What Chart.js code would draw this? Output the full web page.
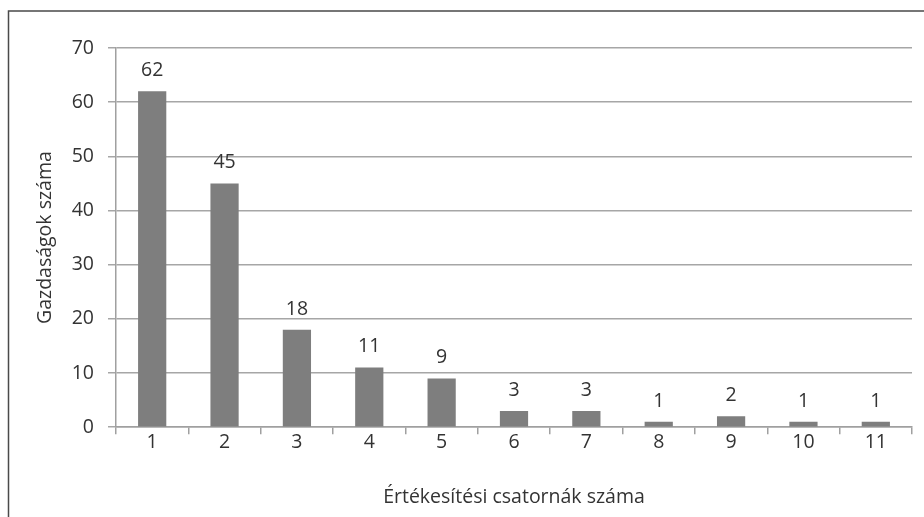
<!DOCTYPE html>
<html>
<head>
<meta charset="utf-8">
<script src="https://cdn.jsdelivr.net/npm/chart.js@4"></script>
<style>
    html, body { margin: 0; padding: 0; background: #fff; }
    #wrap { width: 924px; height: 517px; position: relative; }
</style>
</head>
<body>
<div id="wrap"><canvas id="chart" width="924" height="517"></canvas></div>
<script>
// values
const channels = ['1', '2', '3', '4', '5', '6', '7', '8', '9', '10', '11'];
const farms = [62, 45, 18, 11, 9, 3, 3, 1, 2, 1, 1];
const yTicks = [0, 10, 20, 30, 40, 50, 60, 70];

const xTitle = 'Értékesítési csatornák száma';
const yTitle = 'Gazdaságok száma';

const textColor = '#333333';
const fontFamily = '"Open Sans", "DejaVu Sans", sans-serif';
const fontSize = 19.5;

// labels above each bar
const valueLabels = {
    id: 'valueLabels',
    afterDatasetsDraw(chart) {
        const ctx = chart.ctx;
        const meta = chart.getDatasetMeta(0);
        ctx.save();
        ctx.font = fontSize + 'px ' + fontFamily;
        ctx.fillStyle = textColor;
        ctx.textAlign = 'center';
        ctx.textBaseline = 'bottom';
        meta.data.forEach((bar, i) => {
            ctx.fillText(String(farms[i]), bar.x, bar.y - 11);
        });
        ctx.restore();
    }
};

// the frame of the figure, cut at the right and bottom
const frame = {
    id: 'frame',
    beforeDraw(chart) {
        const ctx = chart.ctx;
        ctx.save();
        ctx.strokeStyle = '#4a4a4a';
        ctx.lineWidth = 1.5;
        ctx.beginPath();
        ctx.moveTo(8.5, 517);
        ctx.lineTo(8.5, 11);
        ctx.lineTo(924, 11);
        ctx.stroke();
        ctx.restore();
    }
};

Chart.defaults.font.family = fontFamily;
Chart.defaults.color = textColor;

new Chart(document.getElementById('chart').getContext('2d'), {
    type: 'bar',
    data: {
        labels: channels,
        datasets: [{
            data: farms,
            backgroundColor: '#7e7e7e',
            categoryPercentage: 1,
            barPercentage: 0.39
        }]
    },
    options: {
        responsive: false,
        animation: false,
        layout: { padding: { left: 34, top: 48, right: 12, bottom: 8 } },
        plugins: {
            legend: { display: false },
            tooltip: { enabled: false }
        },
        scales: {
            x: {
                offset: true,
                grid: {
                    offset: true,
                    drawOnChartArea: false,
                    drawTicks: true,
                    tickLength: 7,
                    tickColor: '#a0a0a0',
                    lineWidth: 1.5
                },
                border: { color: '#a0a0a0', width: 1.5 },
                ticks: { font: { size: fontSize }, color: textColor, padding: -3 },
                title: {
                    display: true,
                    text: xTitle,
                    font: { size: fontSize },
                    color: textColor,
                    padding: { top: 34, bottom: 0 }
                }
            },
            y: {
                min: 0,
                max: 70,
                afterBuildTicks(scale) {
                    scale.ticks = yTicks.map(v => ({ value: v }));
                },
                afterFit(scale) {
                    scale.width = 82;
                },
                grid: {
                    color: '#a6a6a6',
                    lineWidth: 1.5,
                    tickLength: 8,
                    tickColor: '#a6a6a6'
                },
                border: { color: '#a0a0a0', width: 1.5 },
                ticks: { font: { size: fontSize }, color: textColor, padding: 14 },
                title: {
                    display: true,
                    text: yTitle,
                    font: { size: fontSize },
                    color: textColor,
                    padding: { top: 0, bottom: 5 }
                }
            }
        }
    },
    plugins: [frame, valueLabels]
});
</script>
</body>
</html>
